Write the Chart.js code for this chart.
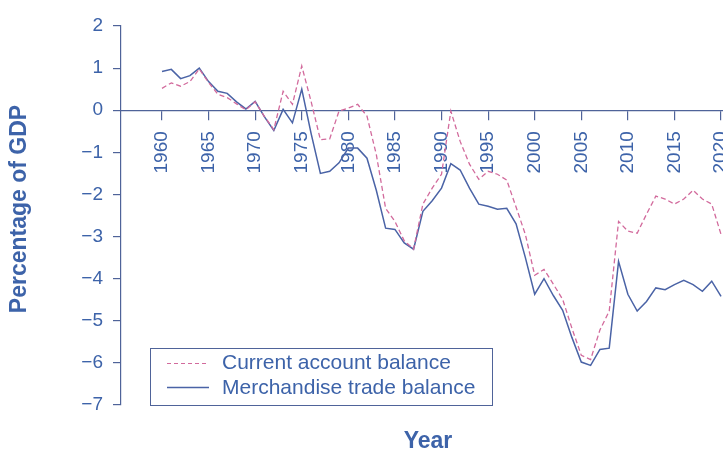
<!DOCTYPE html>
<html>
<head>
<meta charset="utf-8">
<title>Current account and merchandise trade balance</title>
<script src="https://cdn.jsdelivr.net/npm/chart.js@4.4.1/dist/chart.umd.min.js"></script>
<style>
  html, body { margin: 0; padding: 0; background: #fff; }
  #wrap { position: relative; width: 723px; height: 451px; }
</style>
</head>
<body>
<div id="wrap"><canvas id="balanceChart"></canvas></div>
<script>
const years = [];
for (let y = 1960; y <= 2020; y++) years.push(y);

const currentAccount = [
  0.52, 0.65, 0.57, 0.68, 0.98, 0.66, 0.38, 0.30, 0.15, 0.01,
  0.20, -0.15, -0.46, 0.45, 0.14, 1.05, 0.21, -0.70, -0.68, -0.02,
  0.05, 0.14, -0.14, -1.05, -2.33, -2.64, -3.10, -3.30, -2.23, -1.85,
  -1.52, -0.02, -0.74, -1.28, -1.64, -1.45, -1.52, -1.66, -2.30, -2.95,
  -3.92, -3.78, -4.13, -4.49, -5.18, -5.82, -5.92, -5.22, -4.77, -2.64,
  -2.87, -2.92, -2.47, -2.04, -2.11, -2.23, -2.11, -1.90, -2.11, -2.23,
  -2.95
];

const merchandiseTrade = [
  0.92, 0.97, 0.75, 0.82, 1.00, 0.68, 0.45, 0.40, 0.20, 0.03,
  0.21, -0.16, -0.48, 0.02, -0.30, 0.50, -0.55, -1.50, -1.45, -1.25,
  -0.90, -0.90, -1.14, -1.90, -2.80, -2.83, -3.15, -3.30, -2.40, -2.15,
  -1.85, -1.27, -1.42, -1.85, -2.23, -2.28, -2.35, -2.33, -2.70, -3.50,
  -4.37, -4.00, -4.40, -4.75, -5.40, -5.98, -6.06, -5.68, -5.65, -3.59,
  -4.37, -4.77, -4.54, -4.22, -4.26, -4.14, -4.04, -4.14, -4.30, -4.06,
  -4.42
];

const seriesNames = ["Current account balance", "Merchandise trade balance"];
const yearTicks = [1960, 1965, 1970, 1975, 1980, 1985, 1990, 1995, 2000, 2005, 2010, 2015, 2020];
const valueTicks = [2, 1, 0, -1, -2, -3, -4, -5, -6, -7];

const textColor = "#3d63a9";
const axisColor = "#4f6399";
const solidColor = "#4a63a6";
const dashColor = "#d26a9c";
const fontFamily = "'Liberation Sans', Arial, Helvetica, sans-serif";

Chart.defaults.font.family = fontFamily;
Chart.defaults.color = textColor;

const toPoints = (vals) => vals.map((v, i) => ({ x: years[i], y: v }));

// legend box and axis titles drawn on top of the plot
const overlay = {
  id: "overlay",
  afterDraw(chart) {
    const ctx = chart.ctx;
    ctx.save();
    ctx.fillStyle = "#fff";
    ctx.fillRect(150, 348, 342, 57);
    ctx.strokeStyle = axisColor;
    ctx.lineWidth = 1;
    ctx.strokeRect(150.5, 348.5, 342, 57);

    ctx.lineWidth = 1.2;
    ctx.strokeStyle = dashColor;
    ctx.setLineDash([4, 3]);
    ctx.beginPath();
    ctx.moveTo(167, 363.5);
    ctx.lineTo(209, 363.5);
    ctx.stroke();
    ctx.setLineDash([]);
    ctx.strokeStyle = solidColor;
    ctx.lineWidth = 1.4;
    ctx.beginPath();
    ctx.moveTo(167, 387.5);
    ctx.lineTo(209, 387.5);
    ctx.stroke();

    ctx.fillStyle = textColor;
    ctx.font = "21px " + fontFamily;
    ctx.textAlign = "left";
    ctx.textBaseline = "middle";
    ctx.fillText(seriesNames[0], 222, 363);
    ctx.fillText(seriesNames[1], 222, 388);

    ctx.font = "bold 23px " + fontFamily;
    ctx.textAlign = "center";
    ctx.fillText("Year", 428, 442);
    ctx.translate(20, 209);
    ctx.rotate(-Math.PI / 2);
    ctx.fillText("Percentage of GDP", 0, 0);
    ctx.restore();
  }
};

const ctx = document.getElementById("balanceChart").getContext("2d");
const balanceChart = new Chart(ctx, {
  type: "line",
  data: {
    datasets: [
      {
        label: seriesNames[0],
        data: toPoints(currentAccount),
        borderColor: dashColor,
        borderWidth: 1.3,
        borderDash: [5, 3],
        pointRadius: 0,
        tension: 0,
        fill: false,
      },
      {
        label: seriesNames[1],
        data: toPoints(merchandiseTrade),
        borderColor: solidColor,
        borderWidth: 1.5,
        pointRadius: 0,
        tension: 0,
        fill: false,
      },
    ],
  },
  options: {
    responsive: true,
    maintainAspectRatio: false,
    animation: false,
    layout: { padding: { left: 0, right: 0, top: 26, bottom: 46 } },
    plugins: {
      legend: { display: false },
      tooltip: { enabled: false },
    },
    scales: {
      x: {
        type: "linear",
        position: { y: 0 },
        min: 1955.6,
        max: 2020.21,
        afterBuildTicks: (axis) => {
          axis.ticks = yearTicks.map((v) => ({ value: v }));
        },
        afterFit: (axis) => {
          // let the last year label run off the edge
          axis.paddingLeft = 0;
          axis.paddingRight = 0;
        },
        grid: {
          drawOnChartArea: false,
          drawTicks: true,
          tickLength: 9,
          color: axisColor,
          lineWidth: 1.2,
        },
        border: { display: true, color: axisColor, width: 1.2 },
        ticks: {
          minRotation: 90,
          maxRotation: 90,
          padding: 12,
          autoSkip: false,
          color: textColor,
          font: { size: 19 },
          callback: (v) => String(v),
        },
      },
      y: {
        min: -7,
        max: 2,
        afterBuildTicks: (axis) => {
          axis.ticks = valueTicks.map((v) => ({ value: v }));
        },
        afterFit: (axis) => {
          axis.width = 121;
          axis.paddingTop = 0;
          axis.paddingBottom = 0;
        },
        grid: {
          drawOnChartArea: false,
          drawTicks: true,
          tickLength: 8,
          color: axisColor,
          lineWidth: 1.2,
        },
        border: { display: true, color: axisColor, width: 1.2 },
        ticks: {
          padding: 10,
          color: textColor,
          font: { size: 19 },
          callback: (v) => (v < 0 ? "\u2212" + Math.abs(v) : String(v)),
        },
      },
    },
  },
  plugins: [overlay],
});
</script>
</body>
</html>
